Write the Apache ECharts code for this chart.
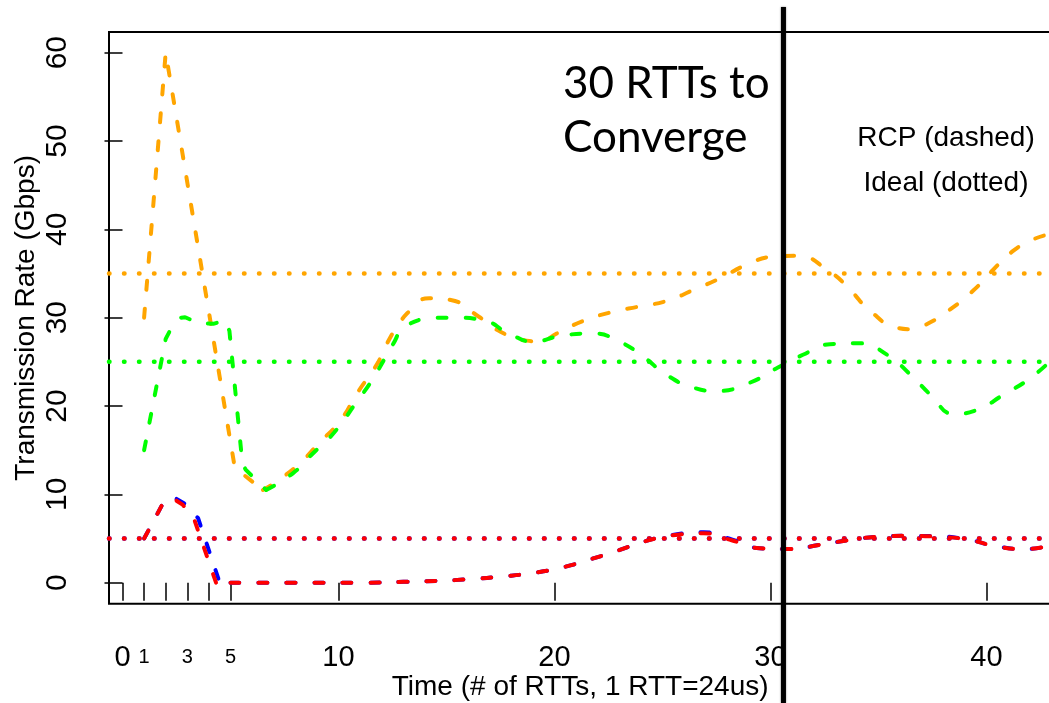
<!DOCTYPE html>
<html>
<head>
<meta charset="utf-8">
<title>RCP convergence</title>
<script src="https://cdn.jsdelivr.net/npm/echarts@6/dist/echarts.min.js"></script>
<style>
  html, body { margin: 0; padding: 0; background: #fff; }
  #chart { width: 1049px; height: 703px; }
</style>
</head>
<body>
<div id="chart"></div>
<script>
// axis ticks (RTTs / Gbps)
var xTicks = [0, 1, 2, 3, 4, 5, 10, 20, 30, 40]
var xLabels = [0, 1, 3, 5, 10, 20, 30, 40]
var yTicks = [0, 10, 20, 30, 40, 50, 60]
var xMin = -0.625
var xMax = 43
var yMin = -2.38
var yMax = 62.34

// ideal rates (dotted)
var idealOrange = 35
var idealGreen = 25
var idealRed = 5

// RCP rates (dashed), [rtt, Gbps] -- first part is a polyline, rest smooth
var orangeStart = [[1, 30], [2, 60], [5.2, 13], [6.5, 10.5]]
var orangeRest = [[6.5, 10.5], [7.1, 11.4], [8.2, 13.5], [9.1, 15.8], [10.1, 18.4], [10.85, 21.4], [11.8, 24.8],
  [12.25, 27.1], [12.85, 29.5], [13.3, 30.8], [13.8, 32], [14.2, 32.2], [15.2, 32], [16.5, 30.1], [17.5, 28.4],
  [18.7, 27.4], [19.35, 27.3], [20.1, 28.2], [21.3, 29.6], [22.6, 30.6], [24, 31.3], [25.2, 31.9], [26.4, 33.1],
  [27.7, 34.5], [28.9, 36], [30.1, 36.9], [31.2, 37], [32.75, 35.2], [33.7, 33.1], [34.6, 30.8], [35.8, 28.9],
  [36.5, 28.7], [37.1, 29.1], [38.3, 30.9], [39.4, 33.1], [40.3, 35.4], [41.2, 37.5], [42.1, 38.8], [43, 39.5]]

var greenStart = [[1, 15], [2, 27.6], [2.3, 29], [2.7, 30], [2.9, 30.05], [3.5, 29.4], [4.2, 29.3], [4.75, 29.7],
  [4.95, 28.5], [5.55, 13.5], [5.7, 12.8], [6.65, 10.5]]
var greenRest = [[6.65, 10.5], [7.9, 12.4], [8.8, 14.6], [9.8, 17], [10.85, 20.5], [11.55, 22.9], [12.1, 25.2],
  [12.55, 27.1], [12.9, 28.6], [13.3, 29.3], [13.8, 29.8], [14.2, 30], [15.3, 30], [16.7, 29.7], [17.9, 28.2],
  [19, 27.3], [20.4, 28], [21.8, 28.2], [23, 27.3], [24.1, 25.6], [25.2, 23.5], [26.4, 22.1], [27.5, 21.7],
  [29, 22.6], [30.3, 24.3], [31.5, 25.8], [32.75, 27], [34.1, 27.1], [35.4, 25.8], [36.5, 23.5], [37.4, 21.3],
  [38.5, 19.1], [39.5, 19.5], [40.8, 21.3], [42, 23.1], [43, 25.2]]

var blueStart = [[1, 5], [1.9, 9.1], [2.35, 9.7], [2.9, 8.9], [3.5, 7.3], [4.5, 0], [5, 0]]
var blueRest = [[5, 0], [8, 0], [11, 0], [13, 0.1], [14.5, 0.2], [16.1, 0.4], [17.6, 0.7], [19, 1.1], [20.4, 1.75],
  [21.6, 2.6], [22.9, 3.6], [24.2, 4.7], [25.6, 5.45], [26.9, 5.7], [28.2, 4.9], [29.5, 3.9], [30.9, 3.8],
  [32.3, 4.3], [33.6, 4.8], [35, 5.2], [36.4, 5.3], [37.7, 5.25], [39.1, 4.9], [40.4, 4.15], [41.7, 3.8], [43, 4.2]]

var redStart = [[1, 5], [1.9, 9.1], [2.3, 9.6], [2.8, 8.8], [3.3, 7.3], [4.33, 0], [5, 0]]
var redRest = [[5, 0], [8, 0], [11, 0], [13, 0.1], [14.5, 0.2], [16.1, 0.4], [17.6, 0.7], [19, 1.1], [20.4, 1.75],
  [21.6, 2.6], [22.9, 3.6], [24.2, 4.7], [25.6, 5.4], [26.9, 5.6], [28.2, 4.8], [29.5, 3.9], [30.9, 3.8],
  [32.3, 4.3], [33.6, 4.8], [35, 5.2], [36.4, 5.3], [37.7, 5.2], [39.1, 4.9], [40.4, 4.15], [41.7, 3.8], [43, 4.2]]

// the "30 RTTs to converge" marker
var convergeRtt = 30.6

var FONT = 'Liberation Sans'

function dashed(color, data, smooth) {
  return {
    type: 'line',
    data: data,
    smooth: smooth,
    symbol: 'none',
    silent: true,
    lineStyle: { color: color, width: 4, type: [9, 19], cap: 'round' }
  }
}

function dotted(color, value) {
  return {
    type: 'line',
    data: [[xMin, value], [xMax, value]],
    symbol: 'none',
    silent: true,
    lineStyle: { color: color, width: 4.5, type: [0.5, 14.5], cap: 'round' }
  }
}

var chartDom = document.getElementById('chart')
var myChart = echarts.init(chartDom)
var option = {
  animation: false,
  backgroundColor: '#fff',
  grid: {
    left: 109,
    top: 32,
    right: -2.3,
    bottom: 99.3,
    containLabel: false,
    outerBoundsMode: 'none',
    show: true,
    borderColor: '#000',
    borderWidth: 2
  },
  xAxis: {
    type: 'value',
    min: xMin,
    max: xMax,
    name: 'Time (# of RTTs, 1 RTT=24us)',
    nameLocation: 'middle',
    nameGap: 70,
    nameMoveOverlap: false,
    nameTextStyle: { fontFamily: FONT, fontSize: 28, color: '#000' },
    splitLine: { show: false },
    axisLine: { show: false },
    axisTick: { customValues: xTicks, length: 18, lineStyle: { color: '#000', width: 1.5 } },
    axisLabel: {
      customValues: xLabels,
      margin: 39,
      color: '#000',
      fontFamily: FONT,
      formatter: function (v) {
        return v > 0 && v < 10 ? '{s|' + v + '}' : '{b|' + v + '}'
      },
      rich: {
        b: { fontFamily: FONT, fontSize: 29, lineHeight: 30, color: '#000' },
        s: { fontFamily: FONT, fontSize: 20, lineHeight: 30, color: '#000' }
      }
    }
  },
  yAxis: {
    type: 'value',
    min: yMin,
    max: yMax,
    name: 'Transmission Rate (Gbps)',
    nameLocation: 'middle',
    nameGap: 69,
    nameMoveOverlap: false,
    nameTextStyle: { fontFamily: FONT, fontSize: 28, color: '#000' },
    splitLine: { show: false },
    axisLine: { show: false },
    axisTick: { customValues: yTicks, length: 18, lineStyle: { color: '#000', width: 1.5 } },
    axisLabel: {
      customValues: yTicks,
      rotate: 90,
      margin: 36,
      color: '#000',
      fontFamily: FONT,
      fontSize: 30
    }
  },
  series: [
    dotted('#0000ff', idealRed),
    dotted('#ff0000', idealRed),
    dotted('#ffa500', idealOrange),
    dotted('#00ff00', idealGreen),
    dashed('#ffa500', orangeStart, false),
    dashed('#ffa500', orangeRest, 0.5),
    dashed('#00ff00', greenStart, false),
    dashed('#00ff00', greenRest, 0.5),
    dashed('#0000ff', blueStart, false),
    dashed('#0000ff', blueRest, 0.5),
    dashed('#ff0000', redStart, false),
    dashed('#ff0000', redRest, 0.5)
  ]
}
myChart.setOption(option)

// marker line and notes placed after layout
var markX = myChart.convertToPixel({ gridIndex: 0 }, [convergeRtt, 0])[0]
myChart.setOption({
  graphic: [
    {
      type: 'line',
      z: 100,
      shape: { x1: markX, y1: 7, x2: markX, y2: 703 },
      style: { stroke: '#000', lineWidth: 5, shadowBlur: 2, shadowColor: 'rgba(0,0,0,0.5)' }
    },
    {
      type: 'text',
      z: 100,
      style: {
        x: 563, y: 57,
        text: '30 RTTs to\nConverge',
        fontFamily: 'Lato', fontSize: 44, lineHeight: 54,
        verticalAlign: 'top', fill: '#000'
      }
    },
    {
      type: 'text',
      z: 100,
      style: {
        x: 946, y: 116,
        text: 'RCP (dashed)\nIdeal (dotted)',
        fontFamily: FONT, fontSize: 28, lineHeight: 45,
        align: 'center', verticalAlign: 'top', fill: '#000'
      }
    }
  ]
})
</script>
</body>
</html>
